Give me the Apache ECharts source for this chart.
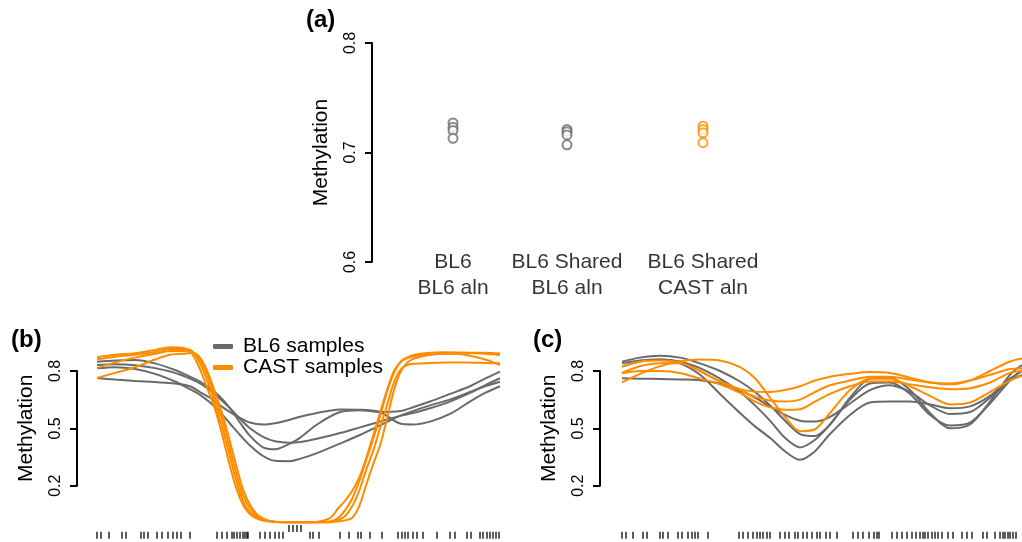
<!DOCTYPE html>
<html>
<head>
<meta charset="utf-8">
<script src="https://cdn.jsdelivr.net/npm/echarts/dist/echarts.min.js"></script>
<style>
  html, body { margin: 0; padding: 0; background: #fff; }
  #chart { width: 1022px; height: 542px; }
</style>
</head>
<body>
<div id="chart"></div>
<script>
// (a) mean methylation per sample
var cats = ['BL6\nBL6 aln', 'BL6 Shared\nBL6 aln', 'BL6 Shared\nCAST aln'];
var catPos = [0.81, 1.95, 3.31];
var grpBL6 = [0.727, 0.723, 0.720, 0.713];
var grpShared = [0.721, 0.719, 0.716, 0.707];
var grpCast = [0.724, 0.721, 0.718, 0.709];

// (b) smoothed methylation, relative position
var posB = [0, 18, 38, 58, 78, 93, 103, 113, 123, 133, 143, 153, 166, 178, 193, 203, 220, 243, 263, 283, 303, 316, 333, 353, 373, 388, 403];
var bBL6_1 = [0.763, 0.755, 0.748, 0.742, 0.735, 0.72, 0.69, 0.66, 0.62, 0.585, 0.555, 0.53, 0.52, 0.527, 0.545, 0.56, 0.58, 0.598, 0.597, 0.585, 0.525, 0.52, 0.535, 0.575, 0.64, 0.685, 0.72];
var bBL6_2 = [0.849, 0.855, 0.858, 0.84, 0.805, 0.77, 0.745, 0.71, 0.665, 0.605, 0.53, 0.46, 0.40, 0.39, 0.42, 0.45, 0.52, 0.585, 0.595, 0.585, 0.59, 0.61, 0.64, 0.68, 0.72, 0.76, 0.797];
var bBL6_3 = [0.831, 0.835, 0.83, 0.815, 0.79, 0.76, 0.735, 0.70, 0.655, 0.605, 0.55, 0.50, 0.455, 0.432, 0.425, 0.428, 0.445, 0.475, 0.505, 0.535, 0.565, 0.58, 0.605, 0.64, 0.685, 0.725, 0.762];
var bBL6_4 = [0.814, 0.82, 0.81, 0.785, 0.745, 0.705, 0.675, 0.635, 0.585, 0.525, 0.465, 0.41, 0.355, 0.33, 0.328, 0.34, 0.37, 0.42, 0.465, 0.515, 0.565, 0.59, 0.62, 0.65, 0.69, 0.72, 0.744];
var posBc = [0, 18, 38, 58, 73, 86, 95, 103, 111, 118, 125, 132, 139, 146, 153, 161, 171, 188, 213, 233, 241, 248, 255, 262, 269, 276, 283, 290, 297, 304, 313, 328, 348, 368, 388, 403];
var bCAST_1 = [0.872, 0.885, 0.893, 0.91, 0.925, 0.922, 0.89, 0.81, 0.70, 0.60, 0.47, 0.32, 0.19, 0.10, 0.05, 0.025, 0.013, 0.008, 0.008, 0.03, 0.08, 0.12, 0.17, 0.24, 0.34, 0.46, 0.58, 0.70, 0.80, 0.85, 0.872, 0.885, 0.893, 0.895, 0.895, 0.892];
var bCAST_2 = [0.862, 0.875, 0.885, 0.90, 0.915, 0.915, 0.905, 0.84, 0.74, 0.63, 0.51, 0.37, 0.23, 0.12, 0.06, 0.03, 0.015, 0.008, 0.008, 0.012, 0.03, 0.07, 0.13, 0.22, 0.33, 0.44, 0.56, 0.69, 0.79, 0.85, 0.878, 0.893, 0.898, 0.895, 0.89, 0.884];
var bCAST_3 = [0.815, 0.845, 0.87, 0.89, 0.905, 0.905, 0.90, 0.86, 0.77, 0.66, 0.55, 0.41, 0.27, 0.15, 0.08, 0.035, 0.015, 0.008, 0.008, 0.01, 0.02, 0.04, 0.09, 0.17, 0.28, 0.38, 0.50, 0.62, 0.74, 0.81, 0.835, 0.84, 0.845, 0.845, 0.842, 0.84];
var bCAST_4 = [0.763, 0.79, 0.82, 0.86, 0.885, 0.89, 0.895, 0.87, 0.79, 0.69, 0.58, 0.45, 0.31, 0.18, 0.10, 0.045, 0.018, 0.008, 0.008, 0.008, 0.012, 0.018, 0.03, 0.09, 0.20, 0.31, 0.41, 0.55, 0.70, 0.80, 0.855, 0.88, 0.89, 0.885, 0.86, 0.831];
var cpgB = [0, 4, 12, 25, 29, 44, 47, 51, 60, 65, 71, 76, 80, 84, 93, 120, 125, 130, 135, 137, 140, 143, 146, 148, 150, 151, 163, 168, 173, 178, 182, 186, 213, 216, 222, 243, 252, 261, 264, 273, 285, 301, 305, 308, 311, 316, 320, 326, 340, 353, 358, 370, 374, 383, 386, 390, 393, 396, 399, 402];
var cpgB2 = [192, 196, 200, 204];

// (c)
var posC = [0, 18, 38, 58, 78, 98, 118, 133, 148, 163, 178, 193, 208, 228, 248, 268, 288, 308, 328, 348, 368, 388, 400];
var cBL6_1 = [0.762, 0.76, 0.758, 0.756, 0.752, 0.735, 0.70, 0.66, 0.615, 0.57, 0.54, 0.535, 0.56, 0.63, 0.70, 0.725, 0.69, 0.62, 0.575, 0.585, 0.66, 0.75, 0.78];
var cBL6_2 = [0.849, 0.87, 0.88, 0.87, 0.84, 0.80, 0.745, 0.69, 0.62, 0.54, 0.47, 0.46, 0.52, 0.66, 0.76, 0.765, 0.70, 0.58, 0.50, 0.52, 0.64, 0.78, 0.831];
var cBL6_3 = [0.84, 0.855, 0.86, 0.85, 0.815, 0.76, 0.69, 0.62, 0.54, 0.45, 0.40, 0.44, 0.52, 0.65, 0.735, 0.74, 0.68, 0.57, 0.515, 0.53, 0.63, 0.75, 0.805];
var cBL6_4 = [0.823, 0.85, 0.86, 0.84, 0.78, 0.68, 0.58, 0.51, 0.45, 0.38, 0.335, 0.38, 0.47, 0.57, 0.635, 0.64, 0.64, 0.625, 0.605, 0.615, 0.67, 0.76, 0.80];
var cCAST_1 = [0.74, 0.785, 0.825, 0.85, 0.86, 0.855, 0.82, 0.762, 0.66, 0.56, 0.485, 0.495, 0.58, 0.70, 0.76, 0.76, 0.72, 0.67, 0.625, 0.635, 0.69, 0.75, 0.775];
var cCAST_2 = [0.823, 0.85, 0.855, 0.845, 0.80, 0.745, 0.705, 0.692, 0.69, 0.70, 0.72, 0.75, 0.77, 0.785, 0.795, 0.79, 0.765, 0.74, 0.73, 0.75, 0.80, 0.85, 0.866];
var cCAST_3 = [0.79, 0.825, 0.84, 0.84, 0.80, 0.745, 0.70, 0.665, 0.645, 0.64, 0.65, 0.69, 0.725, 0.75, 0.77, 0.77, 0.755, 0.74, 0.735, 0.75, 0.78, 0.81, 0.815];
var cCAST_4 = [0.788, 0.80, 0.80, 0.79, 0.76, 0.73, 0.685, 0.64, 0.61, 0.597, 0.60, 0.64, 0.68, 0.72, 0.745, 0.745, 0.73, 0.715, 0.705, 0.71, 0.74, 0.79, 0.80];
var cpgC = [0, 4, 11, 21, 25, 38, 41, 46, 56, 60, 66, 70, 73, 76, 86, 117, 121, 126, 131, 135, 138, 141, 145, 148, 158, 163, 167, 173, 176, 181, 185, 190, 195, 198, 204, 208, 215, 231, 236, 241, 247, 252, 255, 257, 270, 275, 280, 285, 290, 294, 298, 301, 303, 306, 310, 313, 316, 320, 326, 331, 340, 345, 350, 361, 365, 373, 378, 381, 383, 386, 388, 391, 394];

var GRAY = '#6a6a6a';
var ORANGE = '#ff8c00';
var FONT = 'Liberation Sans, Arial, sans-serif';

function pairs(xs, ys) {
    var out = [];
    for (var i = 0; i < xs.length; i++) out.push([xs[i], ys[i]]);
    return out;
}

function visibleY(idx, min, max, interval) {
    return {
        gridIndex: idx, type: 'value', min: min, max: max, interval: interval,
        name: 'Methylation', nameLocation: 'middle', nameRotate: 90, nameGap: 40,
        nameTextStyle: { fontSize: 21, color: '#000', fontFamily: FONT },
        axisLine: { show: true, lineStyle: { color: '#000', width: 2 } },
        axisTick: { show: true, length: 7, lineStyle: { color: '#000', width: 2 } },
        axisLabel: { rotate: 90, fontSize: 16, color: '#000', fontFamily: FONT, margin: 13 },
        splitLine: { show: false }
    };
}
function hiddenAxis(idx, min, max) {
    return { gridIndex: idx, type: 'value', min: min, max: max, show: false, splitLine: { show: false } };
}

var chart = echarts.init(document.getElementById('chart'));

var series = [];
var groups = [grpBL6, grpShared, grpCast];
var groupColors = [GRAY, GRAY, ORANGE];
for (var g = 0; g < groups.length; g++) {
    series.push({
        type: 'scatter', xAxisIndex: 0, yAxisIndex: 0,
        symbol: 'emptyCircle', symbolSize: 9,
        itemStyle: { color: groupColors[g], borderColor: groupColors[g], borderWidth: 2 },
        data: groups[g].map(function (v) { return [catPos[g], v]; })
    });
}
series.push({
    type: 'scatter', xAxisIndex: 0, yAxisIndex: 0, symbolSize: 0, silent: true,
    data: cats.map(function (c, i) { return { name: c, value: [catPos[i], 0.6] }; }),
    label: {
        show: true, position: 'inside', offset: [0, 13], formatter: '{b}',
        fontSize: 21, lineHeight: 26, color: '#000', fontFamily: FONT
    }
});

function addLines(xIdx, yIdx, xs, list, name, color) {
    for (var i = 0; i < list.length; i++) {
        series.push({
            type: 'line', name: name, xAxisIndex: xIdx, yAxisIndex: yIdx,
            data: pairs(xs, list[i]), showSymbol: false, smooth: 0.3,
            lineStyle: { color: color, width: 2 }, itemStyle: { color: color },
            silent: true
        });
    }
}
function addRug(xIdx, yIdx, xs, y) {
    series.push({
        type: 'scatter', xAxisIndex: xIdx, yAxisIndex: yIdx, symbol: 'rect',
        symbolSize: [1.6, 7], itemStyle: { color: '#000' }, silent: true,
        data: xs.map(function (x) { return [x, y]; })
    });
}

addLines(2, 2, posB, [bBL6_1, bBL6_2, bBL6_3, bBL6_4], 'BL6 samples', GRAY);
addLines(2, 2, posBc, [bCAST_1, bCAST_2, bCAST_3, bCAST_4], 'CAST samples', ORANGE);
addRug(3, 3, cpgB, 0.3);
addRug(3, 3, cpgB2, 0.72);
addLines(5, 5, posC, [cBL6_1, cBL6_2, cBL6_3, cBL6_4], 'BL6 samples', GRAY);
addLines(5, 5, posC, [cCAST_1, cCAST_2, cCAST_3, cCAST_4], 'CAST samples', ORANGE);
addRug(6, 6, cpgC, 0.3);

var option = {
    animation: false,
    backgroundColor: '#fff',
    textStyle: { fontFamily: FONT },
    title: [
        { text: '(a)', left: 306, top: 8, padding: 0, textStyle: { fontSize: 24, fontWeight: 'bold', color: '#000', fontFamily: FONT } },
        { text: '(b)', left: 11, top: 328, padding: 0, textStyle: { fontSize: 24, fontWeight: 'bold', color: '#000', fontFamily: FONT } },
        { text: '(c)', left: 533, top: 328, padding: 0, textStyle: { fontSize: 24, fontWeight: 'bold', color: '#000', fontFamily: FONT } }
    ],
    legend: {
        data: ['BL6 samples', 'CAST samples'],
        orient: 'vertical', left: 213, top: 336, padding: 0,
        icon: 'roundRect', itemWidth: 20, itemHeight: 5, itemGap: 0,
        selectedMode: false,
        textStyle: { fontSize: 21, color: '#000', fontFamily: FONT, padding: [0, 0, 0, 5] }
    },
    grid: [
        { left: 372, top: 43, width: 400, height: 219 },
        { left: 77, top: 371, width: 10, height: 114.7 },
        { left: 97, top: 332.8, width: 403, height: 191 },
        { left: 97, top: 524, width: 403, height: 16 },
        { left: 600, top: 371, width: 10, height: 114.7 },
        { left: 622, top: 332.8, width: 400, height: 191 },
        { left: 622, top: 524, width: 400, height: 16 }
    ],
    xAxis: [
        hiddenAxis(0, 0, 4),
        hiddenAxis(1, 0, 1),
        hiddenAxis(2, 0, 403),
        hiddenAxis(3, 0, 403),
        hiddenAxis(4, 0, 1),
        hiddenAxis(5, 0, 400),
        hiddenAxis(6, 0, 400)
    ],
    yAxis: [
        visibleY(0, 0.6, 0.8, 0.1),
        visibleY(1, 0.2, 0.8, 0.3),
        hiddenAxis(2, 0, 1),
        hiddenAxis(3, 0, 1),
        visibleY(4, 0.2, 0.8, 0.3),
        hiddenAxis(5, 0, 1),
        hiddenAxis(6, 0, 1)
    ],
    series: series
};

chart.setOption(option);
</script>
</body>
</html>
